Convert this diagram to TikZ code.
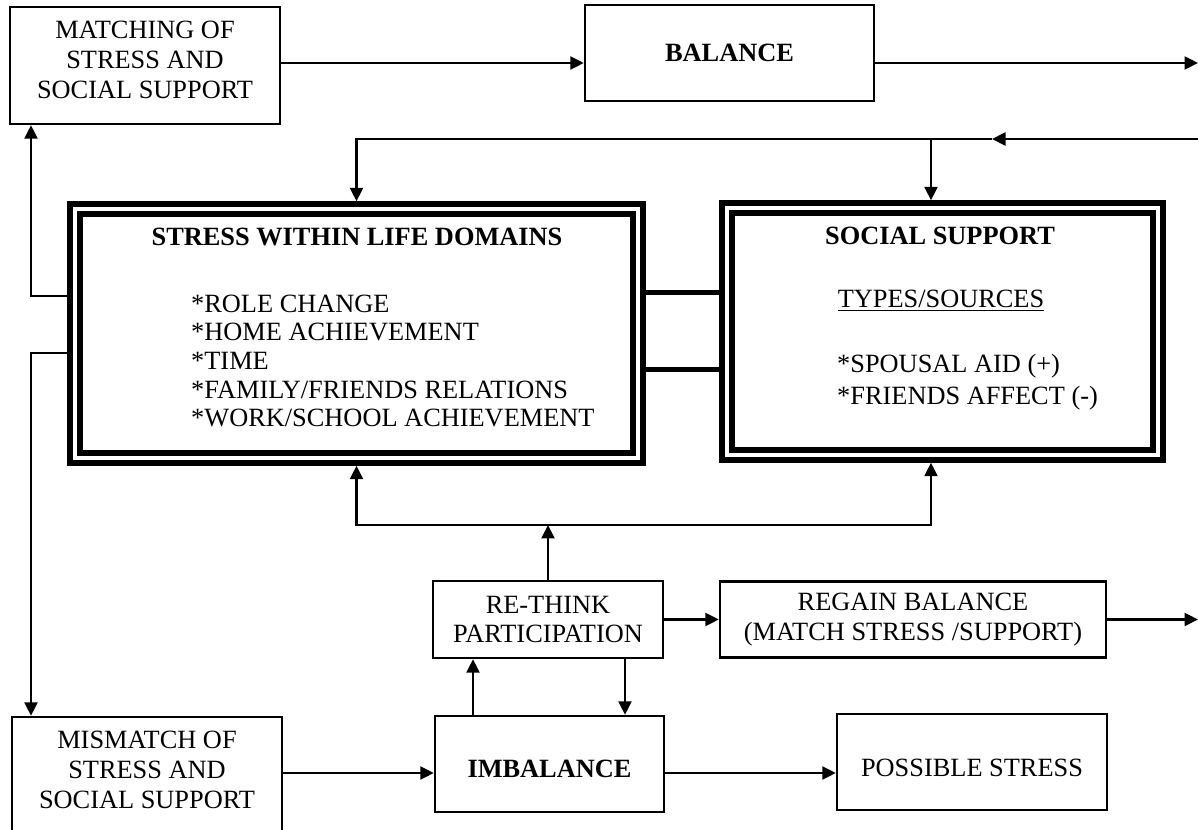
\documentclass[tikz,border=0pt]{standalone}
\usepackage{fontspec}
\setmainfont{Liberation Serif}
\usetikzlibrary{arrows.meta}

\begin{document}
\begin{tikzpicture}[x=0.02cm, y=-0.02cm,
    every node/.style={font=\fontsize{15}{17}\selectfont},
    box/.style={draw, line width=1.4pt, align=center, inner sep=0pt},
    bigbox/.style={draw, line width=0.11cm, double, double distance=0.09cm, outer sep=0.155cm, inner sep=0pt},
    arr/.style={line width=1.3pt, -{Triangle[length=0.27cm, width=0.26cm]}},
    link/.style={line width=0.1cm}]
    \path[use as bounding box, clip] (0,0) rectangle (1198,830);

    \node[box, minimum width=5.4cm, minimum height=2.34cm] (match) at (145,65.5) {MATCHING OF\\STRESS AND\\SOCIAL SUPPORT\\[-10.2pt]\mbox{}};
    \node[box, minimum width=5.78cm, minimum height=1.92cm] (balance) at (729.5,53) {\textbf{BALANCE}};

    \node[bigbox, minimum width=11.26cm, minimum height=4.98cm] (stress) at (356.5,333.5) {};
    \node (stresshead) at (357,237) {\textbf{STRESS WITHIN LIFE DOMAINS}};
    \node[anchor=west, align=left, font=\fontsize{15}{16.3}\selectfont] (stresslist) at (185,361)
        {*ROLE CHANGE\\*HOME ACHIEVEMENT\\*TIME\\*FAMILY/FRIENDS RELATIONS\\*WORK/SCHOOL ACHIEVEMENT};

    \node[bigbox, minimum width=8.62cm, minimum height=4.94cm] (support) at (942.5,331.5) {};
    \node (supporthead) at (940,236) {\textbf{SOCIAL SUPPORT}};
    \node (supporttypes) at (941,301) {\underline{TYPES/SOURCES}};
    \node[anchor=west, align=left, font=\fontsize{15}{18.2}\selectfont] (supportlist) at (831,382)
        {*SPOUSAL AID (+)\\*FRIENDS AFFECT (-)};

    \node[box, minimum width=4.6cm, minimum height=1.54cm] (rethink) at (548,619.5) {RE-THINK\\PARTICIPATION};
    \node[box, minimum width=7.72cm, minimum height=1.52cm] (regain) at (913,619.5) {REGAIN BALANCE\\(MATCH STRESS /SUPPORT)};
    \node[box, minimum width=4.58cm, minimum height=1.92cm, text height=0.55cm] (imbalance) at (549.5,764) {\textbf{IMBALANCE}};
    \node[box, minimum width=5.4cm, minimum height=1.92cm, text height=0.59cm] (possible) at (972,762) {POSSIBLE STRESS};
    \node[box, minimum width=5.4cm, minimum height=2.72cm] (mismatch) at (147,785) {MISMATCH OF\\STRESS AND\\SOCIAL SUPPORT\\~};

    \coordinate (outtop) at (1198,63);
    \coordinate (backin) at (1198,139);
    \coordinate (backtip) at (992,139);
    \coordinate (supportcol) at (931,139);
    \coordinate (leftcol) at (31,296);
    \coordinate (leftlow) at (31,353);
    \coordinate (linkup) at (0,292.5);
    \coordinate (linklow) at (0,370);
    \coordinate (fork) at (548,525);
    \coordinate (outlow) at (1198,619.5);
    \coordinate (upcol) at (473,0);
    \coordinate (downcol) at (625,0);
    \coordinate (row5) at (0,773);

    \draw[arr] (match.east |- outtop) -- (balance.west |- outtop);
    \draw[arr] (balance.east |- outtop) -- (outtop);
    \draw[arr] (backin) -- (backtip);
    \draw[arr] (backtip) -| (stress.north);
    \draw[arr] (supportcol) -- (supportcol |- support.north);
    \draw[arr] (stress.west |- leftcol) -- (leftcol) -- (leftcol |- match.south);
    \draw[arr] (stress.west |- leftlow) -- (leftlow) -- (leftlow |- mismatch.north);
    \draw[link] (stress.east |- linkup) -- (support.west |- linkup);
    \draw[link] (stress.east |- linklow) -- (support.west |- linklow);
    \draw[arr] (rethink.north) -- (fork);
    \draw[arr] (fork) -| (stress.south);
    \draw[arr] (fork) -| (supportcol |- support.south);
    \draw[arr] (rethink) -- (regain);
    \draw[arr] (regain) -- (outlow);
    \draw[arr] (imbalance.north -| upcol) -- (rethink.south -| upcol);
    \draw[arr] (rethink.south -| downcol) -- (imbalance.north -| downcol);
    \draw[arr] (mismatch.east |- row5) -- (imbalance.west |- row5);
    \draw[arr] (imbalance.east |- row5) -- (possible.west |- row5);
\end{tikzpicture}
\end{document}
